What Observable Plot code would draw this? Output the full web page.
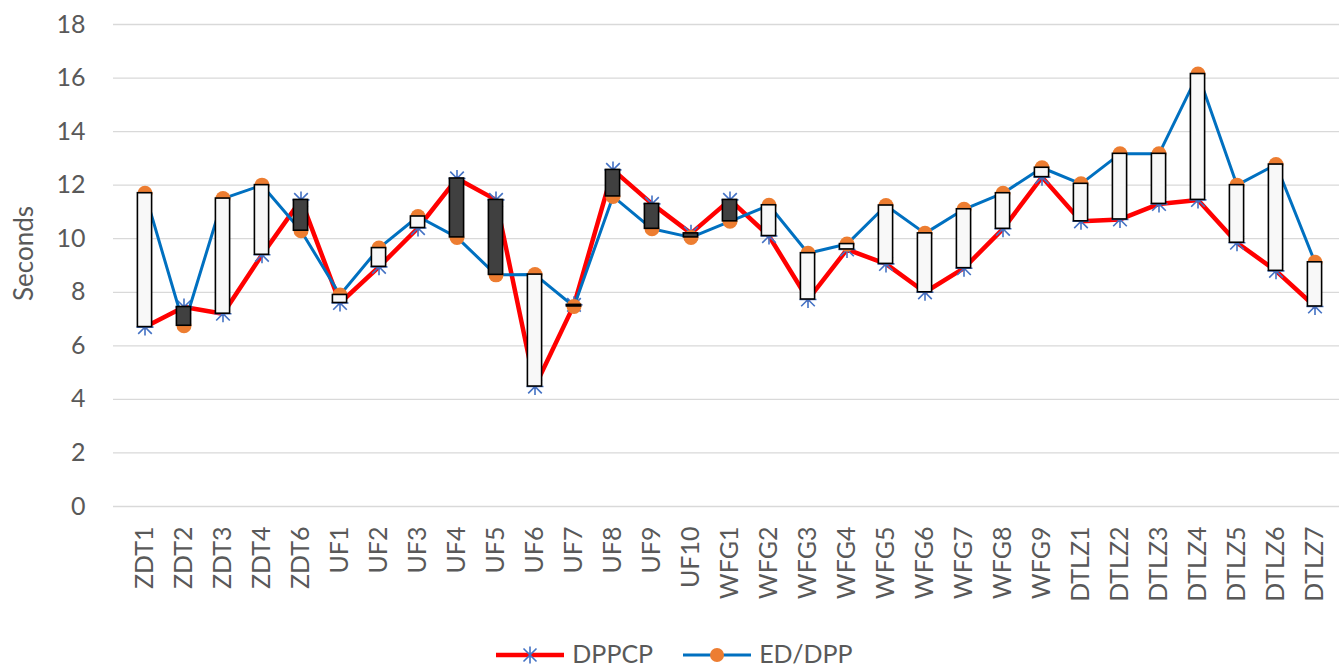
<!DOCTYPE html>
<html>
<head>
<meta charset="utf-8">
<script src="https://cdn.jsdelivr.net/npm/d3@7"></script>
<script src="https://cdn.jsdelivr.net/npm/@observablehq/plot@0.6"></script>
<style>
  html, body { margin: 0; padding: 0; background: #fff; }
  body { width: 1339px; height: 667px; overflow: hidden; font-family: Lato, "Open Sans", sans-serif; }
  #legend { display: flex; justify-content: center; align-items: center; height: 27px; color: #595959; font-size: 25px; line-height: 27px; padding-left: 10px; }
  .item { display: flex; align-items: center; }
  .item svg { display: block; }
  .item span { margin-left: 8px; margin-right: 30px; }
  .item:last-child span { margin-right: 0; }
</style>
</head>
<body>
<div id="chart"></div>
<div id="legend"></div>
<script>
const categories = ["ZDT1","ZDT2","ZDT3","ZDT4","ZDT6","UF1","UF2","UF3","UF4","UF5","UF6","UF7","UF8","UF9","UF10","WFG1","WFG2","WFG3","WFG4","WFG5","WFG6","WFG7","WFG8","WFG9","DTLZ1","DTLZ2","DTLZ3","DTLZ4","DTLZ5","DTLZ6","DTLZ7"];
const dppcp = [6.7, 7.45, 7.2, 9.4, 11.45, 7.6, 8.95, 10.4, 12.25, 11.45, 4.48, 7.53, 12.57, 11.3, 10.2, 11.45, 10.1, 7.73, 9.6, 9.06, 8.0, 8.9, 10.37, 12.3, 10.65, 10.72, 11.3, 11.45, 9.85, 8.8, 7.47];
const eddpp = [11.7, 6.75, 11.5, 12.0, 10.3, 7.9, 9.65, 10.83, 10.05, 8.65, 8.66, 7.47, 11.58, 10.37, 10.05, 10.65, 11.25, 9.46, 9.8, 11.24, 10.2, 11.1, 11.7, 12.65, 12.05, 13.17, 13.17, 16.15, 12.0, 12.77, 9.12];
const yTicks = [0, 2, 4, 6, 8, 10, 12, 14, 16, 18];
const seriesNames = ["DPPCP", "ED/DPP"];
const yTitle = "Seconds";

const data = categories.map((c, i) => ({cat: c, a: dppcp[i], b: eddpp[i]}));

const star = {
  draw(ctx, size) {
    const r = Math.sqrt(size / Math.PI);
    const d = r * 0.8;
    ctx.moveTo(0, -r); ctx.lineTo(0, r);
    ctx.moveTo(-r, 0); ctx.lineTo(r, 0);
    ctx.moveTo(-d, -d); ctx.lineTo(d, d);
    ctx.moveTo(-d, d); ctx.lineTo(d, -d);
  }
};

const W = 1339, H = 640;
const FONT = "Lato, 'Open Sans', sans-serif";
const chart = Plot.plot({
  width: W, height: H,
  marginLeft: 113, marginRight: 0, marginTop: 24, marginBottom: H - 506,
  style: {fontFamily: FONT, background: "#fff", overflow: "visible"},
  x: {type: "band", domain: categories, range: [113, 1345], padding: 0, label: null},
  y: {domain: [0, 18], label: null},
  marks: [
    Plot.ruleY(yTicks, {stroke: "#d9d9d9", strokeWidth: 1.3}),
    Plot.line(data, {x: "cat", y: "a", stroke: "#ff0000", strokeWidth: 4.5, strokeLinejoin: "round"}),
    Plot.dot(data, {x: "cat", y: "a", symbol: star, r: 8.5, stroke: "#4472c4", strokeWidth: 1.6, fill: "none"}),
    Plot.line(data, {x: "cat", y: "b", stroke: "#0070c0", strokeWidth: 3, strokeLinejoin: "round"}),
    Plot.dot(data, {x: "cat", y: "b", r: 7.5, fill: "#ed7d31", stroke: "none"}),
    Plot.barY(data, {x: "cat", y1: "a", y2: "b", fill: d => d.b >= d.a ? "#f8f8f8" : "#404040", stroke: "#000", strokeWidth: 1.6, insetLeft: 12.4, insetRight: 12.4}),
    Plot.axisY({ticks: yTicks, tickSize: 0, tickPadding: 28, fontSize: 25, fill: "#595959", label: null}),
    Plot.axisX({tickRotate: -90, tickSize: 0, tickPadding: 20, fontSize: 25, fill: "#595959", label: null}),
    Plot.text([yTitle], {frameAnchor: "left", textAnchor: "middle", rotate: -90, dx: -89, dy: -12, fontSize: 26, fill: "#595959"})
  ]
});
document.getElementById("chart").appendChild(chart);

// legend
const legend = document.getElementById("legend");
function swatch(color, width, marker) {
  const ns = "http://www.w3.org/2000/svg";
  const s = document.createElementNS(ns, "svg");
  s.setAttribute("width", 68); s.setAttribute("height", 22);
  const l = document.createElementNS(ns, "line");
  l.setAttribute("x1", 0); l.setAttribute("x2", 68); l.setAttribute("y1", 12); l.setAttribute("y2", 12);
  l.setAttribute("stroke", color); l.setAttribute("stroke-width", width);
  s.appendChild(l);
  if (marker === "star") {
    const p = document.createElementNS(ns, "path");
    const r = 8.5, d = 6.5;
    p.setAttribute("d", `M34,${12-r}V${12+r}M${34-d},${12-d}L${34+d},${12+d}M${34-d},${12+d}L${34+d},${12-d}`);
    p.setAttribute("stroke", "#4472c4"); p.setAttribute("stroke-width", 1.6); p.setAttribute("fill", "none");
    s.appendChild(p);
  } else {
    const c = document.createElementNS(ns, "circle");
    c.setAttribute("cx", 34); c.setAttribute("cy", 12); c.setAttribute("r", 7); c.setAttribute("fill", "#ed7d31");
    s.appendChild(c);
  }
  return s;
}
[[seriesNames[0], "#ff0000", 4.5, "star"], [seriesNames[1], "#0070c0", 3, "circle"]].forEach(([name, col, w, m]) => {
  const it = document.createElement("div"); it.className = "item";
  it.appendChild(swatch(col, w, m));
  const sp = document.createElement("span"); sp.textContent = name;
  it.appendChild(sp);
  legend.appendChild(it);
});
</script>
</body>
</html>
